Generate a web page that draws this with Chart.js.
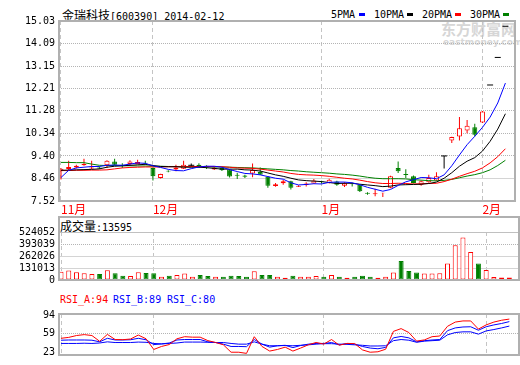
<!DOCTYPE html>
<html><head><meta charset="utf-8">
<script src="https://cdn.jsdelivr.net/npm/chart.js@4.4.0/dist/chart.umd.min.js"></script>
<style>
html,body{margin:0;padding:0;background:#fff;}
body{width:520px;height:365px;overflow:hidden;position:relative;font-family:"DejaVu Sans Mono",monospace;}
canvas{position:absolute;left:0;}
.t{position:absolute;white-space:nowrap;font-size:10px;line-height:12px;color:#000;}
.cjk{font-family:"Noto Sans CJK SC";font-size:12px;}
.sw{position:absolute;width:6px;height:3px;}
</style></head><body>
<div class="t" style="left:441px;top:20px;font:bold 15px 'Noto Sans CJK SC';line-height:17px;color:#d6d6d6;">东方财富网</div>
<div class="t" style="left:443px;top:37px;font:bold 9px 'DejaVu Sans';line-height:10px;color:#d6d6d6;">eastmoney.com</div>
<div class="t" style="left:62px;top:9px;"><span class="cjk">金瑞科技</span>[600390] 2014-02-12</div>
<div id="legend"></div>
<div class="t" style="left:60px;top:220px;"><span class="cjk">成交量</span>:13595</div>
<div class="t" style="left:60px;top:294px;color:#f00;">RSI_A:94</div>
<div class="t" style="left:113px;top:294px;color:#00f;">RSI_B:89</div>
<div class="t" style="left:167px;top:294px;color:#00f;">RSI_C:80</div>
<canvas id="c1" width="520" height="216" style="top:0"></canvas>
<canvas id="c2" width="520" height="74" style="top:216px"></canvas>
<canvas id="c3" width="520" height="61" style="top:304px"></canvas>
<script>
// ---------- data ----------
const dates = ['2013-11-14','2013-11-15','2013-11-18','2013-11-19','2013-11-20','2013-11-21','2013-11-22','2013-11-25','2013-11-26','2013-11-27','2013-11-28','2013-11-29',
 '2013-12-02','2013-12-03','2013-12-04','2013-12-05','2013-12-06','2013-12-09','2013-12-10','2013-12-11','2013-12-12','2013-12-13','2013-12-16','2013-12-17','2013-12-18','2013-12-19','2013-12-20','2013-12-23','2013-12-24','2013-12-25','2013-12-26','2013-12-27','2013-12-30','2013-12-31',
 '2014-01-02','2014-01-03','2014-01-06','2014-01-07','2014-01-08','2014-01-09','2014-01-10','2014-01-13','2014-01-14','2014-01-15','2014-01-16','2014-01-17','2014-01-20','2014-01-21','2014-01-22','2014-01-23','2014-01-24','2014-01-27','2014-01-28','2014-01-29','2014-01-30',
 '2014-02-07','2014-02-10','2014-02-11','2014-02-12'];
const openP  = [8.76,8.86,8.92,9.01,8.88,8.92,9.01,9.17,9.03,9.06,9.06,9.12,8.90,8.48,8.78,8.83,8.87,9.01,9.03,8.99,8.83,8.90,8.83,8.62,8.58,8.67,8.73,8.53,8.15,8.26,8.34,8.11,8.19,8.25,8.33,8.27,8.33,8.16,8.25,8.20,7.86,7.80,7.84,8.07,8.90,8.65,8.55,8.20,8.30,8.38,9.40,10.04,10.21,10.46,10.60,10.79,12.36,13.51,14.81];
const highP  = [8.90,9.20,9.03,9.28,9.20,8.97,9.22,9.28,9.10,9.22,9.24,9.20,8.92,8.66,8.80,9.03,9.20,9.08,9.10,9.01,8.94,8.92,8.86,8.70,8.62,9.08,8.92,8.55,8.27,8.40,8.36,8.18,8.30,8.44,8.36,8.45,8.36,8.30,8.28,8.22,7.89,8.03,7.86,8.57,9.17,8.84,8.58,8.38,8.62,8.72,9.40,10.20,11.02,10.90,10.74,11.27,12.36,13.51,14.81];
const lowP   = [8.42,8.80,8.88,8.99,8.85,8.85,8.90,9.01,8.90,9.01,9.05,9.03,8.38,8.46,8.72,8.76,8.86,8.96,8.92,8.85,8.81,8.77,8.50,8.44,8.48,8.51,8.60,8.07,8.11,8.20,8.00,8.10,8.13,8.24,8.25,8.25,8.16,8.10,8.13,7.90,7.78,7.72,7.69,8.05,8.69,8.48,8.25,8.16,8.28,8.36,8.88,9.94,10.04,10.35,10.21,10.77,12.36,13.51,14.81];
const closeP = [8.87,8.94,8.99,9.06,8.92,8.88,9.20,9.03,9.00,9.17,9.15,9.08,8.55,8.65,8.75,8.92,9.03,9.01,8.98,8.93,8.92,8.80,8.54,8.57,8.53,8.81,8.62,8.16,8.22,8.34,8.07,8.16,8.25,8.38,8.30,8.41,8.20,8.26,8.22,7.93,7.82,7.84,7.86,8.55,8.76,8.60,8.27,8.34,8.48,8.55,9.40,10.19,10.56,10.66,10.28,11.25,12.36,13.51,14.81];
const ma5  = [8.50,8.80,8.90,8.93,8.96,8.96,9.01,9.02,9.01,9.06,9.11,9.09,8.99,8.92,8.84,8.79,8.78,8.87,8.94,8.97,8.97,8.93,8.83,8.75,8.67,8.65,8.61,8.54,8.47,8.43,8.28,8.19,8.21,8.24,8.23,8.30,8.31,8.31,8.28,8.20,8.09,8.01,7.93,8.00,8.17,8.32,8.41,8.50,8.49,8.45,8.61,8.99,9.44,9.87,10.22,10.59,11.02,11.61,12.44];
const ma10 = [8.80,8.81,8.82,8.83,8.84,8.86,8.93,8.97,8.99,9.01,9.03,9.05,9.00,8.96,8.95,8.95,8.93,8.93,8.93,8.91,8.88,8.85,8.85,8.85,8.82,8.81,8.77,8.69,8.61,8.55,8.47,8.40,8.37,8.35,8.33,8.29,8.25,8.26,8.26,8.22,8.19,8.16,8.12,8.14,8.19,8.20,8.21,8.22,8.25,8.31,8.47,8.70,8.97,9.18,9.33,9.60,10.01,10.52,11.16];
const ma20 = [8.79,8.79,8.80,8.80,8.81,8.81,8.82,8.86,8.90,8.92,8.93,8.94,8.94,8.94,8.95,8.95,8.95,8.96,8.96,8.96,8.96,8.95,8.93,8.90,8.89,8.88,8.85,8.81,8.77,8.73,8.67,8.63,8.61,8.60,8.58,8.55,8.51,8.47,8.44,8.39,8.33,8.28,8.25,8.25,8.26,8.25,8.23,8.24,8.25,8.26,8.33,8.43,8.55,8.66,8.76,8.90,9.11,9.37,9.70];
const ma30 = [9.13,9.13,9.12,9.12,9.06,9.01,9.00,9.00,8.99,8.99,8.98,8.98,8.97,8.97,8.96,8.96,8.96,8.95,8.95,8.95,8.94,8.94,8.93,8.92,8.91,8.90,8.88,8.86,8.84,8.82,8.79,8.77,8.74,8.72,8.70,8.68,8.65,8.63,8.60,8.56,8.51,8.47,8.45,8.45,8.45,8.44,8.41,8.39,8.37,8.36,8.38,8.42,8.49,8.56,8.62,8.70,8.82,9.00,9.22];
const volume = [89600,104800,83500,74200,65800,66300,105200,74800,45100,44600,83900,75400,74700,36200,45300,53800,72100,35900,54200,44800,36100,35700,45200,44900,36300,96400,54100,53700,35800,24300,45100,36200,35900,44700,36100,54300,36000,24100,35800,45200,36300,24200,35900,81200,207300,99100,80800,72300,71900,72400,180200,378100,465300,305800,180400,108200,33200,27100,26900];
const rsiA = [51.9,53.5,56.7,58.3,56.7,46.7,58.7,49.8,49.5,50.7,57.5,51.1,32.6,37.8,41.1,51.1,54.7,53.9,53.9,47.9,44.7,40.7,27.8,27.8,25.8,54.7,37.8,29.8,32.6,36.6,29.8,35.0,40.7,44.7,41.9,49.8,39.9,43.1,42.7,31.8,27.8,28.6,33.0,63.9,68.7,61.9,47.1,49.1,54.7,55.9,72.7,80.0,82.0,82.0,67.9,75.1,80.0,83.2,85.2];
const rsiB = [48.6,49.0,49.0,49.0,48.6,45.8,51.9,49.0,49.0,49.4,51.9,49.4,41.0,42.2,43.8,49.0,49.8,49.8,49.8,45.8,44.6,41.8,37.8,37.8,37.4,49.8,41.8,36.6,39.0,39.8,35.8,39.4,41.8,43.0,43.0,44.6,40.6,43.0,41.8,37.8,35.0,33.8,36.2,52.7,55.1,52.7,45.8,47.8,49.0,49.8,65.1,69.9,71.5,71.9,65.9,71.9,75.1,77.6,80.8];
const rsiC = [43.0,43.0,43.0,43.4,43.0,43.8,45.8,44.6,44.6,44.6,45.4,45.0,43.0,42.2,43.0,43.8,45.4,45.4,45.4,45.0,44.6,44.6,43.0,41.8,41.8,45.8,41.8,39.0,39.0,39.4,39.0,39.8,40.6,41.8,42.6,42.6,41.8,41.4,40.6,39.8,38.6,38.6,39.0,47.8,49.8,48.6,45.0,47.0,47.8,48.6,57.9,61.9,63.1,63.1,59.1,64.7,67.1,69.9,73.1];
const priceTicks  = [7.52,8.46,9.40,10.34,11.28,12.21,13.15,14.09,15.03];
const volumeTicks = [0,131013,262026,393039,524052];
const rsiTicks    = [23,59,94];
const maNames  = ['5PMA','10PMA','20PMA','30PMA'];
const maColors = ['#0000ff','#000000','#ff0000','#008000'];

// ---------- helpers ----------
const RED='#ff0000', GREEN='#008000', BLACK='#000000', BLUE='#0000ff';
const idx = dates.map((d,i)=>i);
const monthTicks=[], monthLabels=[];
dates.forEach((d,i)=>{const m=+d.slice(5,7); if(i===0||m!==+dates[i-1].slice(5,7)){monthTicks.push(i);monthLabels.push(m+'月');}});
const candleColor = i => closeP[i]===openP[i] ? BLACK : (closeP[i]>openP[i] ? RED : GREEN);
const isUp = i => closeP[i] >= openP[i];

// legend
(function(){
  const L=document.getElementById('legend');
  const pos=[[331,359],[374,407],[422,455],[470,503]];
  maNames.forEach((n,k)=>{
    const t=document.createElement('div'); t.className='t'; t.style.left=pos[k][0]+'px'; t.style.top='9px'; t.textContent=n; L.appendChild(t);
    const s=document.createElement('div'); s.className='sw'; s.style.left=pos[k][1]+'px'; s.style.top='13px'; s.style.background=maColors[k]; L.appendChild(s);
  });
})();

const framePlugin={id:'frame',afterDraw(chart,args,o){const {ctx,chartArea:a}=chart;const ex=o.extraTop||0;ctx.save();ctx.strokeStyle='#b0b0b0';ctx.lineWidth=2;ctx.strokeRect(a.left,a.top-ex,a.right-a.left,a.bottom-a.top+ex);ctx.restore();}};

const XMIN=-0.26, XMAX=59.25;
function xScale(showLabels){
  return {type:'linear',min:XMIN,max:XMAX,offset:false,
    afterBuildTicks:ax=>{ax.ticks=monthTicks.map(v=>({value:v}));},
    afterFit:ax=>{ax.height=showLabels?15:0;},
    grid:{offset:false,drawTicks:false,color:'#c4c4c4',lineWidth:1},
    border:{display:false,dash:[4,3]},
    ticks:{display:showLabels,align:'start',autoSkip:false,maxRotation:0,minRotation:0,padding:1,color:RED,
      font:{family:'"Noto Sans CJK SC"',size:12},callback:(v,i)=>monthLabels[i]}};
}
function yScale(ticks,fmt,style,extra){
  return Object.assign({position:'left',
    afterBuildTicks:ax=>{ax.ticks=ticks.map(v=>({value:v}));},
    afterFit:ax=>{ax.width=59;},
    grid:{drawTicks:false,lineWidth:1,color:c=>style(c.tick?c.tick.value:null).color},
    border:{display:false,dash:c=>style(c.tick?c.tick.value:null).dash},
    ticks:{autoSkip:false,padding:4,color:'#000',font:{family:'"DejaVu Sans Mono"',size:10},callback:fmt}},extra);
}
const baseOpts={responsive:false,animation:false,devicePixelRatio:1,
  plugins:{legend:{display:false},tooltip:{enabled:false}}};

// ---------- price chart ----------
const bodyIdx = idx.filter(i=>openP[i]!==closeP[i]);
const dojiIdx = idx.filter(i=>openP[i]===closeP[i]);
new Chart(document.getElementById('c1'),{
  type:'bar',
  data:{datasets:[
    ...maNames.map((n,k)=>({type:'line',label:n,data:[ma5,ma10,ma20,ma30][k].map((v,i)=>({x:i,y:v})),
      borderColor:maColors[k],borderWidth:1,pointRadius:0,tension:0,order:0})),
    {type:'line',label:'flat',data:dojiIdx.map(i=>({x:i,y:closeP[i]})),showLine:false,pointStyle:'line',
      pointRadius:3,pointBorderWidth:1,pointBorderColor:BLACK,order:1},
    {type:'bar',label:'body',data:bodyIdx.map(i=>({x:i,y:[openP[i],closeP[i]]})),barThickness:5,grouped:false,
      backgroundColor:bodyIdx.map(i=>isUp(i)?'#ffffff':GREEN),borderColor:bodyIdx.map(i=>candleColor(i)),
      borderWidth:1,borderSkipped:false,inflateAmount:0,order:2},
    {type:'bar',label:'wick',data:idx.map(i=>({x:i,y:[lowP[i],highP[i]]})),barThickness:1,grouped:false,
      backgroundColor:idx.map(i=>candleColor(i)),borderWidth:0,inflateAmount:0,order:3}
  ]},
  options:Object.assign({},baseOpts,{layout:{padding:{top:21,right:1,left:0,bottom:0}},
    plugins:Object.assign({},baseOpts.plugins,{frame:{}}),
    scales:{x:xScale(true),
      y:yScale(priceTicks,v=>v.toFixed(2),v=>{
        if(v===15.03||v===7.52) return {color:'rgba(0,0,0,0)',dash:[]};
        if(v===8.46) return {color:'#d4d4d4',dash:[]};
        return {color:'#b4b4b4',dash:[1,1]};},{min:7.52,max:15.03})}}),
  plugins:[framePlugin]
});

// ---------- volume chart ----------
new Chart(document.getElementById('c2'),{
  type:'bar',
  data:{datasets:[{label:'vol',data:idx.map(i=>({x:i,y:volume[i]})),barThickness:5,
    backgroundColor:idx.map(i=>isUp(i)?'#ffffff':GREEN),borderColor:idx.map(i=>isUp(i)?RED:GREEN),
    borderWidth:1,borderSkipped:false,inflateAmount:0}]},
  options:Object.assign({},baseOpts,{layout:{padding:{top:16,right:1,left:0,bottom:1}},
    plugins:Object.assign({},baseOpts.plugins,{frame:{extraTop:15}}),
    scales:{x:xScale(false),
      y:yScale(volumeTicks,v=>String(v),v=>{
        if(v===0) return {color:'rgba(0,0,0,0)',dash:[]};
        if(v===393039) return {color:'#b4b4b4',dash:[1,1]};
        if(v===524052) return {color:'#c0c0c0',dash:[]};
        return {color:'#d4d4d4',dash:[]};},{min:0,max:524052})}}),
  plugins:[framePlugin]
});

// ---------- RSI chart ----------
new Chart(document.getElementById('c3'),{
  type:'line',
  data:{datasets:[[rsiA,RED],[rsiB,BLUE],[rsiC,BLUE]].map(([arr,c],k)=>({label:'RSI'+k,
    data:arr.map((v,i)=>({x:i,y:v})),borderColor:c,borderWidth:1,pointRadius:0,tension:0,yAxisID:'y'}))},
  options:Object.assign({},baseOpts,{layout:{padding:{top:1,right:1,left:0,bottom:1}},
    plugins:Object.assign({},baseOpts.plugins,{frame:{}}),
    scales:{x:xScale(false),
      y:{display:false,min:23,max:94},
      yl:yScale(rsiTicks,v=>String(v),v=>(v===59?{color:'#b4b4b4',dash:[1,1]}:{color:'rgba(0,0,0,0)',dash:[]}),{min:18.6,max:97.06})}}),
  plugins:[framePlugin]
});
</script>
</body></html>
